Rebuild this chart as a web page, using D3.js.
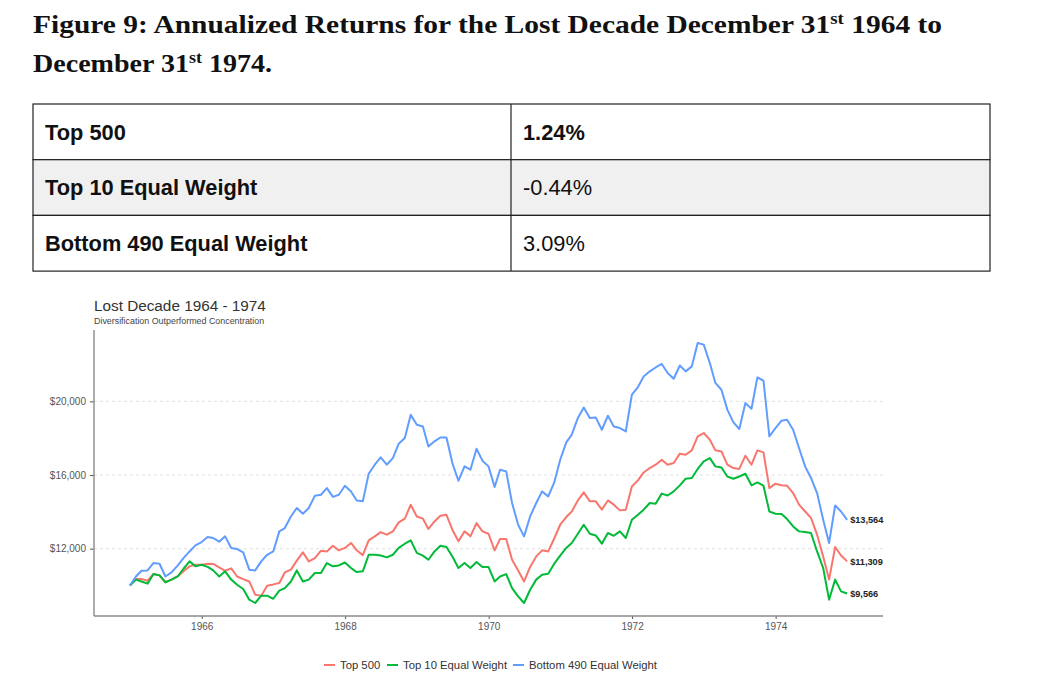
<!DOCTYPE html>
<html>
<head>
<meta charset="utf-8">
<script src="https://cdn.jsdelivr.net/npm/d3@7"></script>
<style>
  body { margin: 0; background: #fff; }
  svg text { font-family: "Liberation Sans", Arial, sans-serif; }
</style>
</head>
<body>
<div id="chart"></div>
<script>
// table values
const tableLabels = ["Top 500", "Top 10 Equal Weight", "Bottom 490 Equal Weight"];
const tableReturns = ["1.24%", "-0.44%", "3.09%"];

// growth of $10,000, month ends Dec 1964 .. Dec 1974
const top500 = [
  10000, 10350, 10350, 10260, 10620, 10550, 10190, 10320, 10490, 10770, 11040, 11130,
  11130, 11180, 11170, 10980, 10800, 10930, 10490, 10350, 10220, 9500, 9450, 9990,
  10060, 10140, 10710, 10860, 11350, 11800, 11310, 11490, 11890, 11850, 12160, 11910,
  12040, 12310, 11910, 11650, 12450, 12670, 12900, 12760, 12940, 13430, 13630, 14390,
  13750, 13630, 13070, 13480, 13790, 13840, 13030, 12400, 12940, 12670, 13390, 12940,
  12810, 11910, 12530, 12530, 11400, 10820, 10220, 11010, 11580, 11910, 11850, 12540,
  13300, 13720, 14020, 14620, 15060, 14570, 14570, 14120, 14620, 14390, 14080, 14120,
  15380, 15710, 16140, 16380, 16560, 16830, 16560, 16650, 17160, 17100, 17340, 18100,
  18280, 17920, 17340, 17280, 16560, 16380, 16330, 17050, 16560, 17340, 17230, 15290,
  15530, 15440, 15420, 15020, 14390, 14020, 13670, 12760, 11580, 10320, 12090, 11630,
  11309
];
const top10 = [
  10000, 10320, 10220, 10100, 10620, 10550, 10170, 10320, 10490, 10910, 11310, 11040,
  11130, 11010, 10820, 10490, 10770, 10320, 10040, 9810, 9230, 9050, 9450, 9450,
  9280, 9720, 9860, 10220, 10820, 10220, 10320, 10680, 10680, 11220, 11040, 11090,
  11250, 10950, 10730, 10770, 11670, 11670, 11630, 11530, 11670, 12040, 12270, 12450,
  11770, 11620, 11400, 11850, 12160, 12090, 11580, 10950, 11220, 10950, 11280, 11010,
  11010, 10220, 10490, 10620, 9860, 9410, 9050, 9770, 10320, 10590, 10640, 11170,
  11620, 12040, 12310, 12810, 13300, 12810, 12720, 12270, 12850, 12700, 12940, 12580,
  13570, 13840, 14120, 14480, 14440, 14990, 14890, 15110, 15440, 15800, 15840, 16330,
  16740, 16920, 16470, 16410, 15920, 15800, 15920, 16070, 15440, 15600, 15420, 14020,
  13900, 13880, 13610, 13210, 12940, 12910, 12850, 11850, 10950, 9230, 10320, 9680,
  9566
];
const bottom490 = [
  10000, 10490, 10800, 10820, 11220, 11180, 10490, 10710, 11080, 11490, 11850, 12180,
  12360, 12630, 12580, 12380, 12670, 12040, 11980, 11800, 10860, 10820, 11310, 11670,
  11850, 12940, 13120, 13750, 14210, 13900, 14210, 14880, 14930, 15290, 14810, 14930,
  15420, 15110, 14620, 14570, 16070, 16560, 16960, 16560, 16920, 17700, 18010, 19270,
  18730, 18640, 17550, 17830, 18040, 18040, 16650, 15690, 16470, 16290, 17430, 16780,
  16470, 15350, 16290, 16200, 14480, 13300, 12670, 13750, 14480, 15110, 14840, 15570,
  16830, 17770, 18190, 19100, 19670, 19100, 19130, 18460, 19220, 18640, 18550, 18370,
  20360, 20780, 21350, 21630, 21840, 22030, 21540, 21230, 21950, 21630, 21900, 23170,
  23080, 22080, 21000, 20630, 19550, 18860, 18500, 19910, 19600, 21300, 21120, 18100,
  18550, 18950, 19000, 18460, 17470, 16470, 15840, 15020, 13570, 12310, 14350, 14020,
  13564
];

const seriesNames = ["Top 500", "Top 10 Equal Weight", "Bottom 490 Equal Weight"];
const seriesColors = ["#F8766D", "#00BA38", "#619CFF"];
const yTicks = [12000, 16000, 20000];
const xTickYears = [1966, 1968, 1970, 1972, 1974];

const width = 1050, height = 682;
const svg = d3.select("#chart").append("svg")
    .attr("width", width)
    .attr("height", height);

// ---- heading
const heading = [
  { y: 33, parts: ["Figure 9: Annualized Returns for the Lost Decade December 31", "st", " 1964 to"], len: 909 },
  { y: 72, parts: ["December 31", "st", " 1974."], len: 239 }
];
heading.forEach(h => {
  const t = svg.append("text")
      .attr("x", 33).attr("y", h.y)
      .attr("textLength", h.len).attr("lengthAdjust", "spacingAndGlyphs")
      .style("font-family", "'Liberation Serif', Georgia, serif")
      .style("font-weight", "bold").style("font-size", "25px").attr("fill", "#111");
  t.append("tspan").text(h.parts[0]);
  t.append("tspan").attr("dy", -9).style("font-size", "16px").text(h.parts[1]);
  t.append("tspan").attr("dy", 9).text(h.parts[2]);
});

// ---- table
const tableX = 33, tableW = 957, colX = 511, rowTop = 104, rowH = 55.7;
const table = svg.append("g");
tableLabels.forEach((lab, i) => {
  const y0 = rowTop + i * rowH;
  table.append("rect")
      .attr("x", tableX).attr("y", y0).attr("width", tableW).attr("height", rowH)
      .attr("fill", i === 1 ? "#f0f0f0" : "#fff")
      .attr("stroke", "#222").attr("stroke-width", 1.2);
  table.append("line")
      .attr("x1", colX).attr("x2", colX).attr("y1", y0).attr("y2", y0 + rowH)
      .attr("stroke", "#222").attr("stroke-width", 1.2);
  table.append("text")
      .attr("x", tableX + 12).attr("y", y0 + rowH / 2).attr("dy", "0.36em")
      .style("font-size", "21.8px").style("font-weight", "bold").attr("fill", "#111")
      .text(lab);
  table.append("text")
      .attr("x", colX + 12).attr("y", y0 + rowH / 2).attr("dy", "0.36em")
      .style("font-size", "21.8px").style("font-weight", i === 0 ? "bold" : "normal")
      .attr("fill", "#111")
      .text(tableReturns[i]);
});

// ---- chart
const panel = { left: 94, right: 883, top: 330, bottom: 616 };
const dates = top500.map((d, i) => new Date(1965, i, 0));
const series = [top500, top10, bottom490].map((vals, k) => ({
  name: seriesNames[k], color: seriesColors[k],
  values: vals.map((v, i) => ({ date: dates[i], value: v }))
}));

const xPad = (panel.right - panel.left) * 0.05 / 1.1;
const x = d3.scaleTime()
    .domain(d3.extent(dates))
    .range([panel.left + xPad, panel.right - xPad]);

const [lo, hi] = d3.extent([].concat(top500, top10, bottom490));
const yEx = (hi - lo) * 0.05;
const y = d3.scaleLinear()
    .domain([lo - yEx, hi + yEx])
    .range([panel.bottom, panel.top]);

svg.append("text")
    .attr("x", 94).attr("y", 311)
    .style("font-size", "15.3px").attr("fill", "#333")
    .text("Lost Decade 1964 - 1974");
svg.append("text")
    .attr("x", 94).attr("y", 324)
    .style("font-size", "8.9px").attr("fill", "#444")
    .text("Diversification Outperformed Concentration");

// gridlines
svg.append("g").selectAll("line")
    .data(yTicks)
    .join("line")
    .attr("x1", panel.left).attr("x2", panel.right)
    .attr("y1", d => y(d)).attr("y2", d => y(d))
    .attr("stroke", "#d9d9d9").attr("stroke-width", 0.8)
    .attr("stroke-dasharray", "3,3");

// axes
const yAxis = svg.append("g")
    .attr("transform", `translate(${panel.left},0)`)
    .call(d3.axisLeft(y).tickValues(yTicks).tickSize(4).tickPadding(4)
      .tickFormat(d => "$" + d3.format(",")(d)));
const xAxis = svg.append("g")
    .attr("transform", `translate(0,${panel.bottom})`)
    .call(d3.axisBottom(x).tickValues(xTickYears.map(yr => new Date(yr, 0, 1))).tickSize(3).tickPadding(4)
      .tickFormat(d3.timeFormat("%Y")));
[yAxis, xAxis].forEach(a => {
  a.select(".domain").remove();
  a.selectAll(".tick line").attr("stroke", "#555");
  a.selectAll(".tick text").attr("fill", "#555").style("font-size", "10px")
      .style("font-family", "'Liberation Sans', Arial, sans-serif");
});
svg.append("line")
    .attr("x1", panel.left).attr("x2", panel.left)
    .attr("y1", panel.top).attr("y2", panel.bottom)
    .attr("stroke", "#8a8a8a").attr("stroke-width", 1.4);
svg.append("line")
    .attr("x1", panel.left).attr("x2", panel.right)
    .attr("y1", panel.bottom).attr("y2", panel.bottom)
    .attr("stroke", "#8a8a8a").attr("stroke-width", 1.4);

// lines
const line = d3.line()
    .x(d => x(d.date))
    .y(d => y(d.value));
svg.append("g").selectAll("path")
    .data(series)
    .join("path")
    .attr("d", d => line(d.values))
    .attr("fill", "none")
    .attr("stroke", d => d.color)
    .attr("stroke-width", 2)
    .attr("stroke-linejoin", "round");

// end labels
svg.append("g").selectAll("text")
    .data(series)
    .join("text")
    .attr("x", d => x(d.values[d.values.length - 1].date) + 3)
    .attr("y", d => y(d.values[d.values.length - 1].value))
    .attr("dy", "0.35em")
    .style("font-size", "9.2px").style("font-weight", "bold").attr("fill", "#222")
    .text(d => "$" + d3.format(",")(d.values[d.values.length - 1].value));

// legend
const legendX = [324, 387, 513];
const legend = svg.append("g").selectAll("g")
    .data(series)
    .join("g")
    .attr("transform", (d, i) => `translate(${legendX[i]},665)`);
legend.append("line")
    .attr("x1", 0).attr("x2", 11)
    .attr("stroke", d => d.color).attr("stroke-width", 2);
legend.append("text")
    .attr("x", 16).attr("dy", "0.35em")
    .style("font-size", "11.3px").attr("fill", "#333")
    .text(d => d.name);
</script>
</body>
</html>
